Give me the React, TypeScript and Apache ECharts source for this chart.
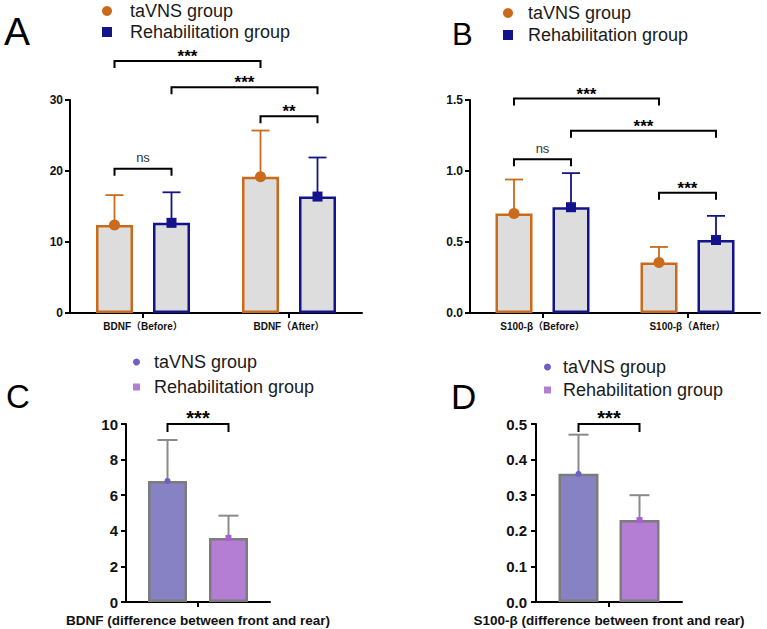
import React, { useEffect, useRef } from "react";
import * as echarts from "echarts";

// ---- data ----
const BDNF_CATEGORIES = ["BDNF（Before）", "BDNF（After）"];
const S100_CATEGORIES = ["S100-β（Before）", "S100-β（After）"];

const BDNF_TAVNS_MEAN = [12.4, 19.2];
const BDNF_TAVNS_SD = [4.2, 6.5];
const BDNF_REHAB_MEAN = [12.7, 16.4];
const BDNF_REHAB_SD = [4.3, 5.5];

const S100_TAVNS_MEAN = [0.7, 0.355];
const S100_TAVNS_SD = [0.24, 0.11];
const S100_REHAB_MEAN = [0.745, 0.514];
const S100_REHAB_SD = [0.24, 0.17];

const BDNF_DIFF_MEAN = [6.8, 3.6];
const BDNF_DIFF_SD = [2.3, 1.25];
const S100_DIFF_MEAN = [0.36, 0.23];
const S100_DIFF_SD = [0.11, 0.07];

const GROUP_NAMES = ["taVNS group", "Rehabilitation group"];

// brackets: [category, group] -> [category, group] at height y
const BDNF_BRACKETS = [
  { from: [0, 0], to: [1, 0], y: 35.5, label: "***" },
  { from: [0, 1], to: [1, 1], y: 31.8, label: "***" },
  { from: [1, 0], to: [1, 1], y: 27.7, label: "**" },
  { from: [0, 0], to: [0, 1], y: 20.3, label: "ns" },
];
const S100_BRACKETS = [
  { from: [0, 0], to: [1, 0], y: 1.51, label: "***" },
  { from: [0, 1], to: [1, 1], y: 1.284, label: "***" },
  { from: [0, 0], to: [0, 1], y: 1.082, label: "ns" },
  { from: [1, 0], to: [1, 1], y: 0.847, label: "***" },
];
const BDNF_DIFF_BRACKETS = [{ from: [0, 0], to: [0, 1], y: 10, label: "***" }];
const S100_DIFF_BRACKETS = [{ from: [0, 0], to: [0, 1], y: 0.5, label: "***" }];

// ---- styles ----
const FONT = '"Liberation Sans", Arial, "Noto Sans CJK SC", sans-serif';
const ORANGE = "#C96A1C";
const NAVY = "#13138C";
const BAR_GREY = "#DDDDDD";
const PURPLE_A = "#8782C4";
const PURPLE_B = "#B47ED4";
const DOT_A = "#6C5FC6";
const DOT_B = "#A95ED2";
const EDGE_GREY = "#7C7C7C";
const ERR_GREY = "#8A8A8A";

type Group = {
  mean: number[];
  sd: number[];
  fill: string;
  border: string;
  err: string;
  errWidth: number;
  marker: "circle" | "square";
  markerColor: string;
  markerSize: number;
};

type PanelCfg = {
  grid: { left: number; top: number; width: number; height: number };
  categories: string[];
  xName?: string;
  yMax: number;
  yInterval: number;
  yDecimals: number;
  yLabelSize: number;
  yLabelMargin: number;
  catLabelSize: number;
  barWidth: number;
  gapPx: number;
  capWidth: number;
  groups: Group[];
  brackets: { from: number[]; to: number[]; y: number; label: string }[];
  starSize: number;
  nsSize: number;
  bracketTick: number;
};

function buildPanel(idx: number, cfg: PanelCfg) {
  const offsets = [-(cfg.barWidth + cfg.gapPx) / 2, (cfg.barWidth + cfg.gapPx) / 2];
  const grid = { ...cfg.grid, containLabel: false };
  const xAxis: any = {
    type: "category",
    gridIndex: idx,
    data: cfg.categories,
    axisLine: { lineStyle: { color: "#000", width: 2 } },
    axisTick: { show: true, alignWithLabel: true, interval: 0, length: 5, lineStyle: { color: "#000", width: 2 } },
    axisLabel: {
      show: true,
      interval: 0,
      fontFamily: FONT,
      fontSize: cfg.catLabelSize,
      fontWeight: "bold",
      color: "#111",
      margin: 8,
    },
    splitLine: { show: false },
  };
  if (cfg.xName) {
    xAxis.name = cfg.xName;
    xAxis.nameLocation = "middle";
    xAxis.nameGap = 12;
    xAxis.nameTextStyle = { fontFamily: FONT, fontSize: 13.5, fontWeight: "bold", color: "#111" };
  }
  const yAxis = {
    type: "value",
    gridIndex: idx,
    min: 0,
    max: cfg.yMax,
    interval: cfg.yInterval,
    axisLine: { show: true, lineStyle: { color: "#000", width: 2 } },
    axisTick: { show: true, length: 5, lineStyle: { color: "#000", width: 2 } },
    axisLabel: {
      fontFamily: FONT,
      fontSize: cfg.yLabelSize,
      fontWeight: "bold",
      color: "#111",
      margin: cfg.yLabelMargin,
      formatter: (v: number) => v.toFixed(cfg.yDecimals),
    },
    splitLine: { show: false },
  };

  const series: any[] = [];
  cfg.groups.forEach((g, gi) => {
    series.push({
      type: "bar",
      name: GROUP_NAMES[gi],
      xAxisIndex: idx,
      yAxisIndex: idx,
      data: g.mean,
      barWidth: cfg.barWidth,
      barGap: `${(cfg.gapPx / cfg.barWidth) * 100}%`,
      itemStyle: { color: g.fill, borderColor: g.border, borderWidth: 2.5 },
      z: 2,
    });
  });
  // error bars (mean + SD) with the group marker at the mean
  cfg.groups.forEach((g, gi) => {
    series.push({
      type: "custom",
      xAxisIndex: idx,
      yAxisIndex: idx,
      z: 4,
      clip: false,
      encode: { x: 0, y: 1 },
      data: g.mean.map((m, i) => [i, m, g.sd[i]]),
      renderItem: (params: any, api: any) => {
        const c = api.value(0);
        const m = api.value(1);
        const s = api.value(2);
        const base = api.coord([c, m]);
        const top = api.coord([c, m + s]);
        const x = base[0] + offsets[gi];
        const half = cfg.capWidth / 2;
        const children: any[] = [
          {
            type: "line",
            shape: { x1: x, y1: base[1], x2: x, y2: top[1] },
            style: { stroke: g.err, lineWidth: g.errWidth },
          },
          {
            type: "line",
            shape: { x1: x - half, y1: top[1], x2: x + half, y2: top[1] },
            style: { stroke: g.err, lineWidth: g.errWidth },
          },
        ];
        if (g.marker === "circle") {
          children.push({
            type: "circle",
            shape: { cx: x, cy: base[1], r: g.markerSize / 2 },
            style: { fill: g.markerColor },
          });
        } else {
          children.push({
            type: "rect",
            shape: {
              x: x - g.markerSize / 2,
              y: base[1] - g.markerSize / 2,
              width: g.markerSize,
              height: g.markerSize,
            },
            style: { fill: g.markerColor },
          });
        }
        return { type: "group", children };
      },
    });
  });

  // significance brackets
  series.push({
    type: "custom",
    xAxisIndex: idx,
    yAxisIndex: idx,
    z: 5,
    clip: false,
    silent: true,
    encode: { x: 0, y: 1 },
    data: cfg.brackets.map((b) => [b.from[0], b.y]),
    renderItem: (params: any, api: any) => {
      const b = cfg.brackets[params.dataIndex];
      const pa = api.coord([b.from[0], b.y]);
      const pb = api.coord([b.to[0], b.y]);
      const xa = pa[0] + offsets[b.from[1]];
      const xb = pb[0] + offsets[b.to[1]];
      const y = pa[1];
      const isNs = b.label === "ns";
      return {
        type: "group",
        children: [
          {
            type: "polyline",
            shape: {
              points: [
                [xa, y + cfg.bracketTick],
                [xa, y],
                [xb, y],
                [xb, y + cfg.bracketTick],
              ],
            },
            style: { stroke: "#000", lineWidth: 2, fill: "none" },
          },
          {
            type: "text",
            x: (xa + xb) / 2,
            y: isNs ? y - 11 : y + 4,
            style: {
              text: b.label,
              fontFamily: FONT,
              fontSize: isNs ? cfg.nsSize : cfg.starSize,
              fontWeight: isNs ? "normal" : "bold",
              fill: isNs ? "#333" : "#000",
              align: "center",
              verticalAlign: isNs ? "middle" : "bottom",
            },
          },
        ],
      };
    },
  });

  return { grid, xAxis, yAxis, series };
}

function legendFor(
  left: number,
  top: number,
  colors: string[],
  size: number,
  gap: number,
  textPad: number
) {
  return {
    orient: "vertical",
    left,
    top,
    padding: 0,
    itemWidth: size,
    itemHeight: size,
    itemGap: gap,
    selectedMode: false,
    data: [
      { name: GROUP_NAMES[0], icon: "circle", itemStyle: { color: colors[0], borderWidth: 0 } },
      { name: GROUP_NAMES[1], icon: "rect", itemStyle: { color: colors[1], borderWidth: 0 } },
    ],
    formatter: (n: string) => `{pad|}${n}`,
    textStyle: {
      fontFamily: FONT,
      fontSize: 18,
      color: "#1a1a1a",
      lineHeight: 20,
      rich: { pad: { width: textPad } },
    },
  };
}

function panelLetter(text: string, left: number, top: number, size: number) {
  return {
    text,
    left,
    top,
    padding: 0,
    textStyle: { fontFamily: FONT, fontSize: size, fontWeight: "normal", color: "#000", lineHeight: size },
  };
}

export default function App() {
  const ref = useRef<HTMLDivElement>(null);

  useEffect(() => {
    if (!ref.current) return;
    const chart = echarts.init(ref.current, undefined, { renderer: "svg" });

    const orangeNavy = (mean: number[], sd: number[], gi: number): Group => ({
      mean,
      sd,
      fill: BAR_GREY,
      border: gi === 0 ? ORANGE : NAVY,
      err: gi === 0 ? ORANGE : NAVY,
      errWidth: 1.8,
      marker: gi === 0 ? "circle" : "square",
      markerColor: gi === 0 ? ORANGE : NAVY,
      markerSize: gi === 0 ? 11 : 10,
    });

    // the difference panels hold one category, both groups side by side
    const diffPanel = (means: number[], sds: number[]): Group[] => [
      {
        mean: [means[0]],
        sd: [sds[0]],
        fill: PURPLE_A,
        border: EDGE_GREY,
        err: ERR_GREY,
        errWidth: 2,
        marker: "circle",
        markerColor: DOT_A,
        markerSize: 6,
      },
      {
        mean: [means[1]],
        sd: [sds[1]],
        fill: PURPLE_B,
        border: EDGE_GREY,
        err: ERR_GREY,
        errWidth: 2,
        marker: "square",
        markerColor: DOT_B,
        markerSize: 6,
      },
    ];

    const panels = [
      buildPanel(0, {
        grid: { left: 70, top: 100, width: 292, height: 213 },
        categories: BDNF_CATEGORIES,
        yMax: 30,
        yInterval: 10,
        yDecimals: 0,
        yLabelSize: 12,
        yLabelMargin: 7,
        catLabelSize: 10,
        barWidth: 37,
        gapPx: 20,
        capWidth: 18,
        groups: [
          orangeNavy(BDNF_TAVNS_MEAN, BDNF_TAVNS_SD, 0),
          orangeNavy(BDNF_REHAB_MEAN, BDNF_REHAB_SD, 1),
        ],
        brackets: BDNF_BRACKETS,
        starSize: 17,
        nsSize: 13,
        bracketTick: 7,
      }),
      buildPanel(1, {
        grid: { left: 470, top: 100, width: 290, height: 213 },
        categories: S100_CATEGORIES,
        yMax: 1.5,
        yInterval: 0.5,
        yDecimals: 1,
        yLabelSize: 12,
        yLabelMargin: 7,
        catLabelSize: 10,
        barWidth: 37,
        gapPx: 20,
        capWidth: 18,
        groups: [
          orangeNavy(S100_TAVNS_MEAN, S100_TAVNS_SD, 0),
          orangeNavy(S100_REHAB_MEAN, S100_REHAB_SD, 1),
        ],
        brackets: S100_BRACKETS,
        starSize: 17,
        nsSize: 13,
        bracketTick: 7,
      }),
      buildPanel(2, {
        grid: { left: 126, top: 424, width: 144, height: 178 },
        categories: [""],
        xName: "BDNF (difference between front and rear)",
        yMax: 10,
        yInterval: 2,
        yDecimals: 0,
        yLabelSize: 15,
        yLabelMargin: 8,
        catLabelSize: 10,
        barWidth: 39,
        gapPx: 22,
        capWidth: 20,
        groups: diffPanel(BDNF_DIFF_MEAN, BDNF_DIFF_SD),
        brackets: BDNF_DIFF_BRACKETS,
        starSize: 20,
        nsSize: 13,
        bracketTick: 8,
      }),
      buildPanel(3, {
        grid: { left: 536, top: 424, width: 146, height: 178 },
        categories: [""],
        xName: "S100-β (difference between front and rear)",
        yMax: 0.5,
        yInterval: 0.1,
        yDecimals: 1,
        yLabelSize: 15,
        yLabelMargin: 9,
        catLabelSize: 10,
        barWidth: 40,
        gapPx: 21,
        capWidth: 20,
        groups: diffPanel(S100_DIFF_MEAN, S100_DIFF_SD),
        brackets: S100_DIFF_BRACKETS,
        starSize: 20,
        nsSize: 13,
        bracketTick: 8,
      }),
    ];

    chart.setOption({
      animation: false,
      backgroundColor: "#fff",
      title: [
        panelLetter("A", 4, 12, 39),
        panelLetter("B", 452, 19, 31),
        panelLetter("C", 6, 380, 33),
        panelLetter("D", 451, 379, 35),
      ],
      legend: [
        legendFor(102, 1, [ORANGE, NAVY], 10, 1, 13),
        legendFor(503, 3, [ORANGE, NAVY], 10, 2, 10),
        legendFor(133, 352, [DOT_A, PURPLE_B], 7, 5, 9),
        legendFor(544, 357, [DOT_A, PURPLE_B], 7, 3, 7),
      ],
      grid: panels.map((p) => p.grid),
      xAxis: panels.map((p) => p.xAxis),
      yAxis: panels.map((p) => p.yAxis),
      series: panels.flatMap((p) => p.series),
    });

    return () => chart.dispose();
  }, []);

  return (
    <div
      ref={ref}
      style={{ position: "absolute", left: 0, top: 0, width: 767, height: 629 }}
    />
  );
}
